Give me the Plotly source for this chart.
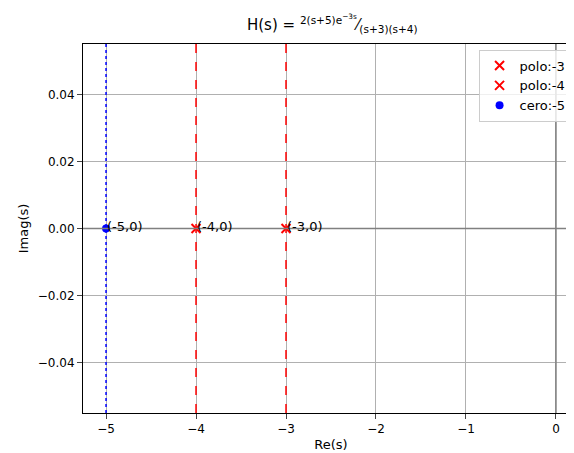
import plotly.graph_objects as go

poles = [-3, -4]
zeros = [-5]
pole_names = ["polo:-3", "polo:-4"]
zero_names = ["cero:-5"]
xticks = [-5, -4, -3, -2, -1, 0]
yticks = [-0.04, -0.02, 0.0, 0.02, 0.04]

fig = go.Figure()
for p, n in zip(poles, pole_names):
    fig.add_trace(go.Scatter(x=[p], y=[0], mode="markers", name=n,
                             marker=dict(symbol="x-thin", size=9, color="red", line=dict(width=2, color="red"))))
for z, n in zip(zeros, zero_names):
    fig.add_trace(go.Scatter(x=[z], y=[0], mode="markers", name=n,
                             marker=dict(symbol="circle", size=8, color="blue")))
for p in poles:
    fig.add_vline(x=p, line=dict(color="red", dash="dash", width=1.5))
for z in zeros:
    fig.add_vline(x=z, line=dict(color="blue", dash="dot", width=1.5))
fig.add_hline(y=0, line=dict(color="gray", width=1.5))
fig.add_vline(x=0, line=dict(color="gray", width=1.5))
for v in zeros + poles:
    fig.add_annotation(x=v, y=0, text=f"({v},0)", showarrow=False, xanchor="left", yanchor="bottom",
                       xshift=-1, yshift=-7, font=dict(size=13, color="black"))

axis = dict(showline=True, mirror=True, linecolor="black", ticks="outside", gridcolor="#b0b0b0",
            zeroline=False, tickfont=dict(size=12, color="black"), automargin=False)
fig.update_layout(
    width=574, height=453, plot_bgcolor="white", paper_bgcolor="white",
    margin=dict(l=75, r=3, t=36, b=48, autoexpand=False),
    font=dict(family="DejaVu Sans", color="black"),
    title=dict(text="H(s) = <sup>2(s+5)e<sup>−3s</sup></sup>⁄<sub>(s+3)(s+4)</sub>", x=0.565, y=0.975,
               xanchor="center", font=dict(size=15)),
    xaxis=dict(axis, range=[-5.256, 0.256], tickvals=xticks, ticktext=[str(t).replace("-", "−") for t in xticks],
               title=dict(text="Re(s)", font=dict(size=13), standoff=4)),
    yaxis=dict(axis, range=[-0.055, 0.055], tickvals=yticks, ticktext=[f"{t:.2f}".replace("-", "−") for t in yticks],
               title=dict(text="Imag(s)", font=dict(size=13), standoff=6)),
    legend=dict(x=0.985, y=0.985, xanchor="right", yanchor="top", bordercolor="#cccccc", borderwidth=1,
                bgcolor="rgba(255,255,255,0.8)", font=dict(size=13)),
)
fig.write_html("out.html")
